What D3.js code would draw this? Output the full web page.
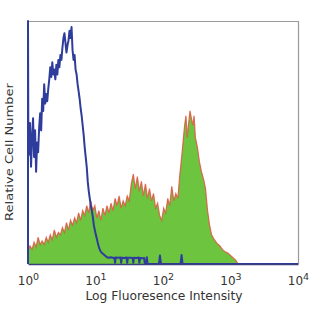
<!DOCTYPE html>
<html><head><meta charset="utf-8">
<script src="https://cdn.jsdelivr.net/npm/d3@7"></script>
<style>html,body{margin:0;padding:0;background:#fff;}svg{display:block;}</style>
</head><body>
<svg id="c" width="312" height="312"></svg>
<script>
// log10 fluorescence (decades) and relative counts
const blueLog = [0.0,0.0,0.005,0.015,0.03,0.045,0.06,0.075,0.09,0.105,0.12,0.135,0.15,0.165,0.18,0.195,0.21,0.225,0.24,0.255,0.27,0.285,0.30,0.315,0.33,0.345,0.36,0.375,0.39,0.405,0.42,0.435,0.45,0.465,0.48,0.495,0.51,0.525,0.54,0.555,0.57,0.585,0.60,0.615,0.63,0.645,0.66,0.675,0.69,0.705,0.72,0.735,0.75,0.765,0.78,0.795,0.81,0.825,0.84,0.855,0.87,0.885,0.90,0.915,0.93,0.945,0.96,0.975,0.99,1.005,1.02,1.035,1.05,1.065,1.08,1.11,1.14,1.17,1.20,1.23,1.26,1.28,1.29,1.30,1.34,1.37,1.38,1.39,1.43,1.46,1.47,1.48,1.52,1.55,1.56,1.57,1.61,1.64,1.65,1.66,1.70,1.72,1.73,1.75,1.76,1.77,1.78,1.94,1.955,1.97,2.26,2.275,2.29,4.0];
const blueCount = [0,100,55,45,58,40,52,60,44,55,38,50,46,56,62,55,68,63,74,66,70,67,72,76,81,77,83,78,80,76,82,78,84,81,86,84,89,93,95,91,87,90,92,96,93,97.5,88,84,86,80,78,74,71,68,64,61,57,53,48,44,40,34,30,27,24,22,19.5,16,14,12,10.5,8.5,7,5.8,5,4.2,3.5,2.8,2.6,2.8,2.5,2.6,0.5,2.7,2.6,2.7,0.5,2.6,2.5,2.7,0.5,2.6,2.6,2.5,0.5,2.6,2.5,2.7,0.5,2.5,2.4,2.5,0.3,0.3,2.8,0.3,0,0,3.5,0,0,3.7,0,0];

const greenLog = [0.00,0.03,0.06,0.09,0.12,0.15,0.18,0.21,0.24,0.27,0.30,0.33,0.36,0.39,0.42,0.45,0.48,0.51,0.54,0.57,0.60,0.63,0.66,0.69,0.72,0.75,0.78,0.81,0.84,0.87,0.90,0.93,0.96,0.99,1.02,1.05,1.08,1.11,1.14,1.17,1.20,1.23,1.26,1.29,1.32,1.35,1.38,1.41,1.44,1.47,1.50,1.53,1.56,1.59,1.62,1.65,1.68,1.71,1.74,1.77,1.80,1.83,1.86,1.89,1.92,1.95,1.98,2.01,2.04,2.07,2.10,2.13,2.16,2.19,2.22,2.25,2.28,2.30,2.32,2.34,2.36,2.38,2.40,2.42,2.44,2.46,2.48,2.51,2.54,2.57,2.60,2.63,2.66,2.69,2.72,2.76,2.80,2.84,2.88,2.92,2.96,3.00,3.04,3.08,3.11];
const greenCount = [5.5,7.5,6,9,7,11,8,9.5,8,11,9,12,10,14,11,13,12,15,13,17,14,18,16,19,17,21,18,22,20,24,21,26,22,24,19,22,18,23,20,24,21,25,22,27,24,28,23,26,24,28,26,33,37,31,36,30,34,28,33,27,31,26,29,23,25,20,18,23,21,27,24,32,26,29,27,37,45,51,57,61,52,58,63,60,57,61,52,48,42,38,35,31,22,16,12,10,8.5,7.5,6,5,4.5,3.5,2.5,1.5,0];

const tickExps = [0,1,2,3,4];
const xTitle = "Log Fluoresence Intensity";
const yTitle = "Relative Cell Number";

const svg = d3.select("#c");
const L = 28, R = 298, T = 21, B = 264;
const x = d3.scaleLinear().domain([0,4]).range([L,R]);
const y = d3.scaleLinear().domain([0,100]).range([B,T]);

const green = greenLog.map((v,i)=>({x:v,y:greenCount[i]}));
const blue = blueLog.map((v,i)=>({x:v,y:blueCount[i]}));

// frame
svg.append("line").attr("x1",L).attr("x2",R).attr("y1",T+0.5).attr("y2",T+0.5).attr("stroke","#9a9a9a").attr("stroke-width",1.2);
svg.append("line").attr("x1",R+0.5).attr("x2",R+0.5).attr("y1",T).attr("y2",B).attr("stroke","#9a9a9a").attr("stroke-width",1.2);

svg.append("path").datum(green)
  .attr("d", d3.area().x(d=>x(d.x)).y0(y(0)).y1(d=>y(d.y)))
  .attr("fill","#6cc43f");
svg.append("path").datum(green)
  .attr("d", d3.line().x(d=>x(d.x)).y(d=>y(d.y)))
  .attr("fill","none").attr("stroke","#e0553f").attr("stroke-width",1.2).attr("stroke-opacity",0.85);

svg.append("path").datum(blue)
  .attr("d", d3.line().x(d=>x(d.x)).y(d=>y(d.y)))
  .attr("fill","none").attr("stroke","#2e3c9c").attr("stroke-width",2).attr("stroke-linejoin","round");

// bottom axis
const ax = svg.append("g").attr("transform",`translate(0,${B})`)
  .call(d3.axisBottom(x).tickValues(tickExps).tickSize(0).tickFormat(""));
ax.select(".domain").attr("stroke","#3a3f7e").attr("stroke-width",1.5);
ax.selectAll(".tick text").remove();
ax.selectAll(".tick").append("text")
  .attr("y",21).attr("fill","#333").attr("text-anchor","middle")
  .style("font-family","DejaVu Sans").style("font-size","12px")
  .each(function(d){
    const t = d3.select(this);
    t.append("tspan").text("10");
    t.append("tspan").attr("dy",-5).style("font-size","9.5px").text(d);
  });

svg.append("text").attr("x",164).attr("y",300).attr("text-anchor","middle")
  .attr("textLength",157).attr("lengthAdjust","spacingAndGlyphs")
  .attr("fill","#333").style("font-family","DejaVu Sans").style("font-size","12px").text(xTitle);
svg.append("text").attr("transform","translate(13,152) rotate(-90)").attr("text-anchor","middle")
  .attr("textLength",138).attr("lengthAdjust","spacingAndGlyphs")
  .attr("fill","#333").style("font-family","DejaVu Sans").style("font-size","10.5px").text(yTitle);
</script>
</body></html>
